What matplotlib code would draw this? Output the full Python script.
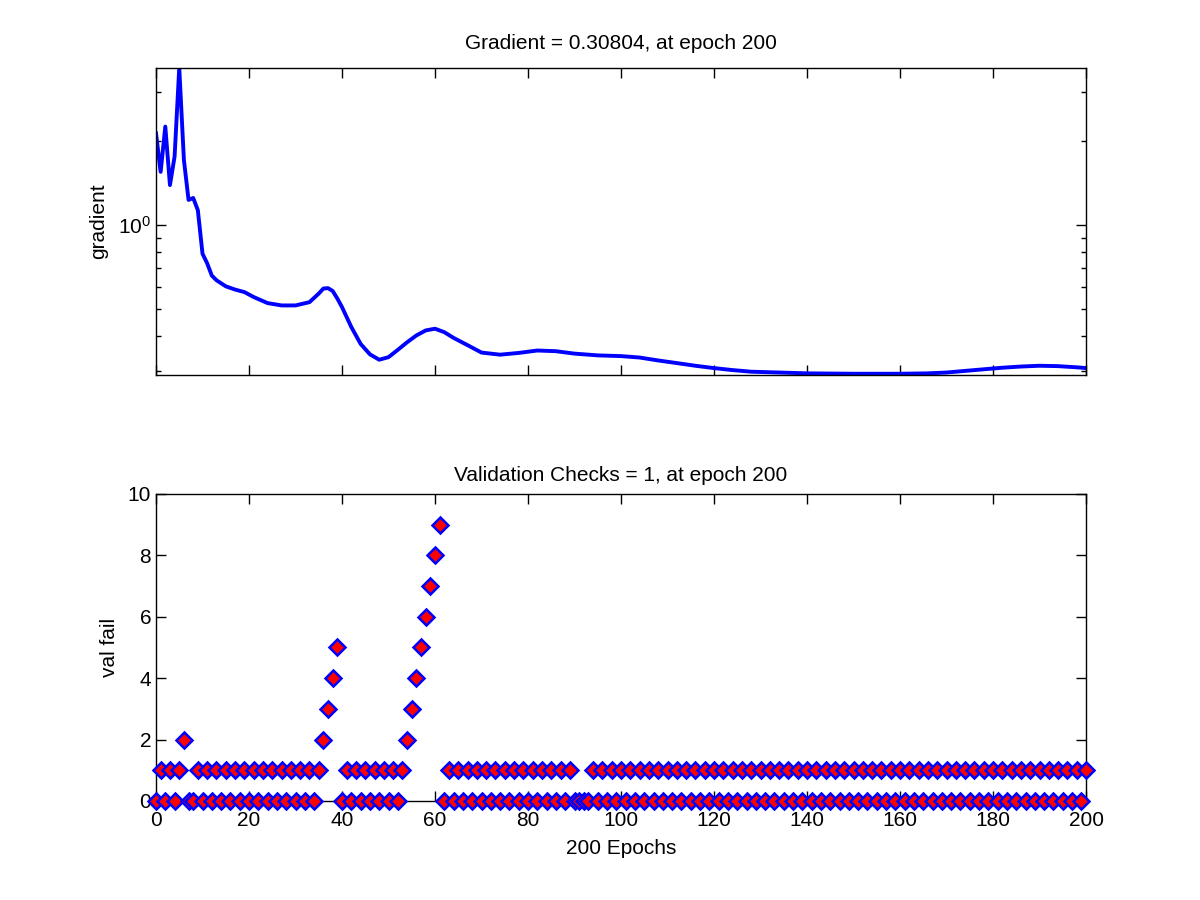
import numpy as np
import matplotlib
matplotlib.use('Agg')
import matplotlib.pyplot as plt
from matplotlib.ticker import LogLocator, FuncFormatter, NullFormatter, MultipleLocator

plt.rcParams['font.family'] = ['Liberation Sans', 'DejaVu Sans']
plt.rcParams['mathtext.default'] = 'regular'

# Gradient
grad_epochs = [0, 1, 2, 3, 4, 5, 6, 7, 8, 9, 10, 11, 12, 13, 15, 17, 19, 21, 24, 27,
               30, 33, 35, 36, 37, 38, 39, 40, 42, 44, 46, 48, 50, 52, 54, 56, 58, 60,
               62, 64, 67, 70, 74, 78, 82, 86, 90, 95, 100, 104, 108, 112, 116, 120,
               124, 128, 134, 140, 150, 160, 166, 170, 174, 178, 182, 186, 190, 194,
               198, 200]
grad_values = [2.13, 1.55, 2.25, 1.39, 1.76, 3.65, 1.71, 1.23, 1.25, 1.13, 0.79, 0.73,
               0.66, 0.635, 0.604, 0.588, 0.576, 0.553, 0.526, 0.516, 0.516, 0.530,
               0.569, 0.593, 0.595, 0.581, 0.546, 0.509, 0.432, 0.376, 0.345, 0.330,
               0.337, 0.358, 0.381, 0.403, 0.420, 0.426, 0.414, 0.395, 0.372, 0.350,
               0.344, 0.349, 0.356, 0.354, 0.347, 0.342, 0.340, 0.336, 0.328, 0.321,
               0.314, 0.308, 0.303, 0.299, 0.297, 0.295, 0.294, 0.294, 0.295, 0.297,
               0.301, 0.305, 0.309, 0.312, 0.314, 0.313, 0.310, 0.30804]

# Validation checks per epoch 0..200
val_fail = [0, 1, 0, 1, 0, 1, 2, 0, 0, 1,
            0, 1, 0, 1, 0, 1, 0, 1, 0, 1,
            0, 1, 0, 1, 0, 1, 0, 1, 0, 1,
            0, 1, 0, 1, 0, 1, 2, 3, 4, 5,
            0, 1, 0, 1, 0, 1, 0, 1, 0, 1,
            0, 1, 0, 1, 2, 3, 4, 5, 6, 7,
            8, 9, 0, 1, 0, 1, 0, 1, 0, 1,
            0, 1, 0, 1, 0, 1, 0, 1, 0, 1,
            0, 1, 0, 1, 0, 1, 0, 1, 0, 1,
            0, 0, 0, 0, 1, 0, 1, 0, 1, 0,
            1, 0, 1, 0, 1, 0, 1, 0, 1, 0,
            1, 0, 1, 0, 1, 0, 1, 0, 1, 0,
            1, 0, 1, 0, 1, 0, 1, 0, 1, 0,
            1, 0, 1, 0, 1, 0, 1, 0, 1, 0,
            1, 0, 1, 0, 1, 0, 1, 0, 1, 0,
            1, 0, 1, 0, 1, 0, 1, 0, 1, 0,
            1, 0, 1, 0, 1, 0, 1, 0, 1, 0,
            1, 0, 1, 0, 1, 0, 1, 0, 1, 0,
            1, 0, 1, 0, 1, 0, 1, 0, 1, 0,
            1, 0, 1, 0, 1, 0, 1, 0, 1, 0,
            1]
val_epochs = np.arange(len(val_fail))

x_ticks = [0, 20, 40, 60, 80, 100, 120, 140, 160, 180, 200]
fs = 15

fig = plt.figure(figsize=(12, 9), dpi=100)
ax1 = fig.add_axes([0.13, 0.5838, 0.775, 0.3412])
ax2 = fig.add_axes([0.13, 0.11, 0.775, 0.3412])

# gradient plot
ax1.plot(grad_epochs, grad_values, color='#0000ff', linewidth=2.8)
ax1.set_yscale('log')
ax1.set_xlim(0, 200)
ax1.set_ylim(0.292, 3.66)
ax1.set_xticks(x_ticks)
ax1.set_xticklabels([])
ax1.yaxis.set_major_locator(LogLocator(base=10))
ax1.yaxis.set_minor_locator(LogLocator(base=10, subs=np.arange(2, 10)))
ax1.yaxis.set_major_formatter(FuncFormatter(lambda v, p: r'$10^{%d}$' % round(np.log10(v))))
ax1.yaxis.set_minor_formatter(NullFormatter())
ax1.set_ylabel('gradient', fontsize=fs, labelpad=7)
ax1.set_title('Gradient = 0.30804, at epoch 200', fontsize=fs, pad=13)

# validation checks
ax2.plot(val_epochs, val_fail, linestyle='none', marker='D', markersize=8,
         markerfacecolor='#ff0000', markeredgecolor='#0000ff', markeredgewidth=1.8,
         clip_on=False, zorder=5)
ax2.set_xlim(0, 200)
ax2.set_ylim(0, 10)
ax2.set_xticks(x_ticks)
ax2.yaxis.set_major_locator(MultipleLocator(2))
ax2.set_xlabel('200 Epochs', fontsize=fs, labelpad=7)
ax2.set_ylabel('val fail', fontsize=fs, labelpad=6)
ax2.set_title('Validation Checks = 1, at epoch 200', fontsize=fs, pad=9)

for ax in (ax1, ax2):
    ax.tick_params(which='major', direction='in', length=7, width=1, top=True, right=True,
                   labelsize=fs)
    ax.tick_params(which='minor', direction='in', length=3.6, width=1, top=True, right=True)
    for s in ax.spines.values():
        s.set_linewidth(1)
ax2.tick_params(axis='x', pad=7)

fig.savefig('out.png', dpi=100)
